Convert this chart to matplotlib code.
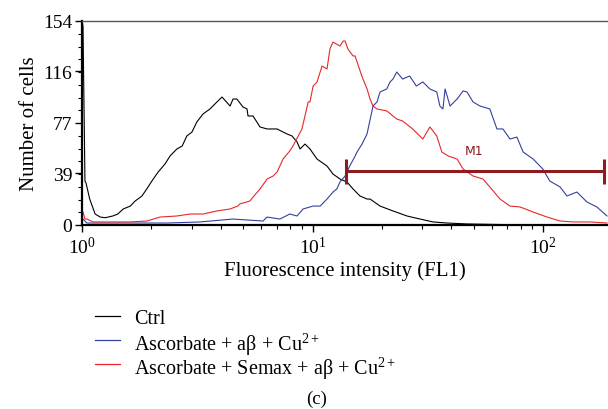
import matplotlib
matplotlib.use("Agg")
import matplotlib.pyplot as plt
from matplotlib.lines import Line2D
from matplotlib.ticker import FixedLocator, LogLocator, NullFormatter, LogFormatterMathtext

plt.rcParams["font.family"] = ["Liberation Serif", "DejaVu Serif"]
plt.rcParams["mathtext.fontset"] = "custom"
plt.rcParams["mathtext.rm"] = "Liberation Serif"
plt.rcParams["mathtext.it"] = "Liberation Serif:italic"
plt.rcParams["mathtext.default"] = "regular"

# Ctrl histogram (FL1 value, cell count)
ctrl_fl = [1.0, 1.01, 1.03, 1.04, 1.08, 1.14, 1.20, 1.26, 1.36, 1.43, 1.51, 1.62,
           1.70, 1.82, 1.91, 2.01, 2.14, 2.29, 2.41, 2.58, 2.72, 2.85, 3.00, 3.15,
           3.35, 3.59, 3.85, 4.05, 4.39, 4.52, 4.70, 4.99, 5.20, 5.25, 5.52, 5.92,
           6.35, 6.75, 7.02, 7.45, 7.76, 8.15, 8.57, 8.83, 9.28, 9.75, 10.46, 11.56,
           12.27, 13.16, 14.11, 14.99, 16.07, 17.24, 17.77, 19.63, 22.35, 25.70,
           29.27, 33.33, 38.33, 46.81, 74.1, 120.0, 191.0]
ctrl_n = [154, 150, 33, 32, 19.6, 8.3, 6.0, 5.5, 6.8, 8.3, 12.1, 14.3,
          18.1, 21.9, 27.2, 33.2, 40.0, 46.0, 52.1, 57.4, 59.6, 67.2, 70.2, 77.8,
          83.8, 87.6, 92.9, 96.6, 89.8, 95.1, 95.1, 89.1, 87.6, 82.3, 82.3, 74.0,
          72.5, 72.5, 72.5, 70.2, 68.7, 67.2, 62.7, 57.4, 61.1, 57.4, 49.8, 44.5,
          38.5, 34.7, 32.5, 27.2, 21.9, 19.6, 19.6, 14.3, 10.6, 6.8,
          4.5, 2.3, 1.5, 0.8, 0.2, 0.0, 0.0]

# Ascorbate + aβ + Cu2+ histogram
asc_fl = [1.0, 1.01, 1.05, 2.34, 3.25, 4.52, 6.10, 6.35, 7.22, 7.97, 8.57, 9.10,
          10.06, 10.8, 11.56, 12.27, 12.75, 13.16, 13.85, 14.5, 15.3, 15.6, 16.4,
          17.24, 18.30, 19.05, 19.63, 21.0, 21.7, 22.35, 23.2, 24.6, 26.4, 28.2,
          30.1, 32.3, 34.6, 35.7, 36.8, 37.6, 39.5, 42.4, 45.0, 46.8, 49.7, 53.3,
          58.8, 63.1, 67.0, 71.9, 77.0, 82.0, 90.6, 99.8, 107.0, 118.6, 127.0,
          140.3, 155.0, 171.3, 189.5]
asc_n = [3.0, 4.5, 1.5, 1.5, 2.3, 4.5, 3.0, 6.0, 4.5, 8.3, 6.8, 12.1,
         14.3, 14.3, 19.6, 24.9, 27.2, 32.5, 37.0, 44.5, 52.0, 55.1, 61.1,
         68.7, 89.8, 92.9, 100.4, 102.7, 108.0, 110.2, 115.5, 110.2, 112.5, 104.9,
         108.0, 102.7, 100.4, 89.8, 87.6, 102.7, 89.8, 95.1, 101.2, 100.4, 92.9, 89.8,
         87.6, 72.5, 72.5, 64.9, 66.4, 55.1, 49.8, 42.3, 33.2, 28.7, 21.9,
         24.9, 17.4, 13.6, 6.8]

# Ascorbate + Semax + aβ + Cu2+ histogram
sem_fl = [1.0, 1.01, 1.03, 1.05, 1.12, 1.62, 1.91, 2.18, 2.58, 2.94, 3.35, 3.85,
          4.39, 4.74, 4.84, 5.35, 5.52, 5.92, 6.35, 6.75, 7.02, 7.45, 7.97, 8.22,
          9.00, 9.58, 9.75, 10.06, 10.46, 11.0, 11.56, 11.90, 12.27, 13.16, 13.59,
          13.85, 14.24, 14.99, 15.3, 16.36, 17.24, 17.77, 18.30, 19.05, 21.0, 23.2,
          24.6, 27.2, 30.1, 32.3, 34.6, 36.4, 38.8, 42.4, 45.0, 49.7, 54.9, 58.8,
          65.1, 71.9, 79.5, 90.6, 104.1, 118.6, 135.1, 160.1, 189.5]
sem_n = [10.6, 9.8, 4.5, 4.5, 2.3, 2.3, 3.0, 6.0, 6.8, 8.3, 8.3, 10.6,
         12.1, 14.3, 15.9, 18.1, 21.1, 27.2, 34.7, 37.0, 40.0, 49.8, 55.9, 59.6,
         72.5, 92.9, 92.9, 104.9, 107.9, 120.0, 117.8, 132.9, 138.1, 135.1, 138.9,
         138.9, 132.9, 127.6, 127.6, 112.5, 102.7, 95.1, 89.8, 87.6, 86.1, 80.0,
         78.5, 72.5, 64.9, 74.0, 67.2, 55.1, 52.1, 49.8, 42.3, 37.0, 34.7, 28.7,
         19.6, 14.3, 13.6, 9.8, 6.0, 3.0, 2.3, 2.3, 1.5]

# M1 gate: range on FL1 and marker height
m1_range = [14.0, 184.0]
m1_level = 40.5
m1_cap = [31.0, 49.8]

y_ticks = [0, 39, 77, 116, 154]
legend_labels = ["Ctrl",
                 "Ascorbate + a\u03b2 + Cu$^{2+}$",
                 "Ascorbate + Semax + a\u03b2 + Cu$^{2+}$"]

W, H = 608, 410
fig = plt.figure(figsize=(W / 100, H / 100), dpi=100)
ax = fig.add_axes([82 / W, 1 - 226 / H, 526 / W, 204 / H])

l1, = ax.plot(ctrl_fl, ctrl_n, color="black", lw=0.8)
l2, = ax.plot(asc_fl, asc_n, color="#3340a0", lw=0.8)
l3, = ax.plot(sem_fl, sem_n, color="#e8262b", lw=0.8)

gate = "#8c1c1f"
ax.plot(m1_range, [m1_level, m1_level], color=gate, lw=2.2, solid_capstyle="butt")
for xv in m1_range:
    ax.plot([xv, xv], m1_cap, color=gate, lw=2.2, solid_capstyle="butt")
ax.text(50.2, 56.6, "M1", color=gate, fontsize=9, family="DejaVu Sans",
        ha="center", va="center")

ax.set_xscale("log")
ax.set_xlim(1, 191.4)
ax.set_ylim(0, 154)

ax.yaxis.set_major_locator(FixedLocator(y_ticks))
ax.yaxis.set_minor_locator(FixedLocator([154 / 16 * i for i in range(17)]))
ax.xaxis.set_major_locator(LogLocator(base=10))
ax.xaxis.set_major_formatter(LogFormatterMathtext())
ax.xaxis.set_minor_locator(LogLocator(base=10, subs=range(2, 10)))
ax.xaxis.set_minor_formatter(NullFormatter())

ax.tick_params(axis="both", which="major", labelsize=14, length=5, width=1, direction="out")
ax.tick_params(axis="both", which="minor", length=3, width=0.8, direction="out")
ax.tick_params(axis="y", pad=2)
ax.tick_params(axis="x", pad=3)

for s in ("left", "bottom"):
    ax.spines[s].set_linewidth(1.6)
    ax.spines[s].set_color("black")
ax.spines["top"].set_linewidth(1.0)
ax.spines["top"].set_color("#555555")
ax.spines["right"].set_visible(False)

ax.set_xlabel("Fluorescence intensity (FL1)", fontsize=15, labelpad=2)
ax.set_ylabel("Number of cells", fontsize=15, labelpad=3)

# Legend below the axes, one row per series, evenly spaced
row_y = [317, 341, 365]
for line, label, yy in zip([l1, l2, l3], legend_labels, row_y):
    fy = 1 - yy / H
    fig.add_artist(Line2D([95 / W, 120 / W], [fy, fy], color=line.get_color(),
                          lw=0.9, transform=fig.transFigure))
    fig.text(134 / W, fy, label, fontsize=14.5, ha="left", va="center_baseline")

fig.text(317 / W, 1 - 399 / H, "(c)", fontsize=13.5, ha="center", va="center")

fig.savefig("out.png", dpi=100)
